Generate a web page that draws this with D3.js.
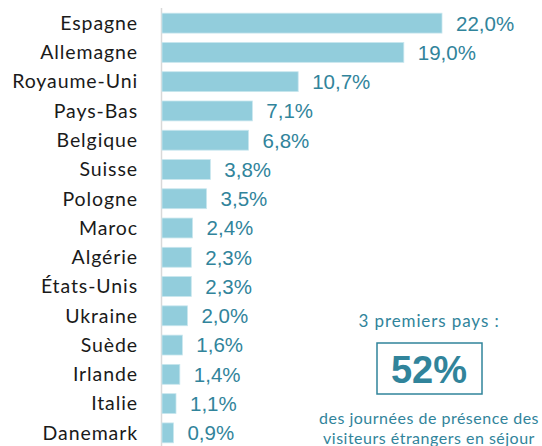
<!DOCTYPE html>
<html>
<head>
<meta charset="utf-8">
<script src="https://cdn.jsdelivr.net/npm/d3@7"></script>
<style>
  body { margin: 0; background: #fff; }
  svg { display: block; }
</style>
</head>
<body>
<svg id="chart" width="542" height="446"></svg>
<script>
// countries and share of foreign visitor nights (%)
var countries = ['Espagne', 'Allemagne', 'Royaume-Uni', 'Pays-Bas', 'Belgique', 'Suisse', 'Pologne',
    'Maroc', 'Algérie', 'États-Unis', 'Ukraine', 'Suède', 'Irlande', 'Italie', 'Danemark'];
var shares = [22.0, 19.0, 10.7, 7.1, 6.8, 3.8, 3.5, 2.4, 2.3, 2.3, 2.0, 1.6, 1.4, 1.1, 0.9];
var topThree = '52%';
var noteLines = ['des journées de présence des', 'visiteurs étrangers en séjour'];

var teal = '#31849b';
var svg = d3.select('#chart');

var x = d3.scaleLinear().domain([0, 22]).range([162, 442]);
var y = d3.scaleBand().domain(countries).range([8.5, 447.5]).paddingInner(0.32).paddingOuter(0.16);

// baseline
svg.append('line')
    .attr('x1', 161.5).attr('x2', 161.5)
    .attr('y1', 8).attr('y2', 446)
    .style('stroke', '#d9d9d9')
    .style('stroke-width', 1.5);

svg.selectAll('rect.bar')
    .data(countries)
    .enter().append('rect')
    .attr('class', 'bar')
    .attr('x', x(0))
    .attr('y', function (d) { return y(d); })
    .attr('width', function (d, i) { return x(shares[i]) - x(0); })
    .attr('height', y.bandwidth())
    .attr('fill', '#92cddc')
    .attr('stroke', '#c9e6ee')
    .attr('stroke-width', 0.8);

// category labels
svg.selectAll('text.cat')
    .data(countries)
    .enter().append('text')
    .attr('class', 'cat')
    .attr('x', 138)
    .attr('y', function (d) { return y(d) + y.bandwidth() / 2; })
    .attr('dy', '0.35em')
    .attr('text-anchor', 'end')
    .style('font-family', 'Lato, sans-serif')
    .style('font-size', '19.5px')
    .style('letter-spacing', '0.9px')
    .style('fill', '#1a1a1a')
    .text(function (d) { return d; });

// value labels
svg.selectAll('text.val')
    .data(countries)
    .enter().append('text')
    .attr('class', 'val')
    .attr('x', function (d, i) { return x(shares[i]) + 14; })
    .attr('y', function (d) { return y(d) + y.bandwidth() / 2; })
    .attr('dy', '0.36em')
    .style('font-family', '"Liberation Sans", Arial, sans-serif')
    .style('font-size', '20.5px')
    .style('fill', teal)
    .text(function (d, i) { return d3.format('.1f')(shares[i]).replace('.', ',') + '%'; });

// annotation
var cx = 429;
svg.append('text')
    .attr('x', cx).attr('y', 321)
    .attr('dy', '0.35em')
    .attr('text-anchor', 'middle')
    .style('font-family', 'Lato, sans-serif')
    .style('font-size', '17px')
    .style('letter-spacing', '0.9px')
    .style('fill', teal)
    .text('3 premiers pays :');

svg.append('rect')
    .attr('x', 377).attr('y', 343)
    .attr('width', 105).attr('height', 51)
    .attr('fill', 'none')
    .attr('stroke', teal)
    .attr('stroke-width', 1.5);

svg.append('text')
    .attr('x', cx).attr('y', 370)
    .attr('dy', '0.35em')
    .attr('text-anchor', 'middle')
    .style('font-family', '"Liberation Sans", Arial, sans-serif')
    .style('font-size', '38px')
    .style('font-weight', 'bold')
    .style('fill', teal)
    .text(topThree);

svg.selectAll('text.note')
    .data(noteLines)
    .enter().append('text')
    .attr('class', 'note')
    .attr('x', cx)
    .attr('y', function (d, i) { return 418 + i * 20; })
    .attr('dy', '0.35em')
    .attr('text-anchor', 'middle')
    .style('font-family', 'Lato, sans-serif')
    .style('font-size', '16px')
    .style('letter-spacing', '0.5px')
    .style('fill', teal)
    .text(function (d) { return d; });
</script>
</body>
</html>
